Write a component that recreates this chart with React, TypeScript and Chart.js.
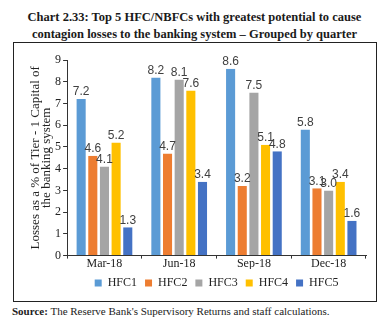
import React, { useEffect, useRef } from "react";
import { Chart, registerables } from "chart.js";

Chart.register(...registerables);

const categories = ["Mar-18", "Jun-18", "Sep-18", "Dec-18"];
const seriesNames = ["HFC1", "HFC2", "HFC3", "HFC4", "HFC5"];
const hfc1 = [7.2, 8.2, 8.6, 5.8];
const hfc2 = [4.6, 4.7, 3.2, 3.1];
const hfc3 = [4.1, 8.1, 7.5, 3.0];
const hfc4 = [5.2, 7.6, 5.1, 3.4];
const hfc5 = [1.3, 3.4, 4.8, 1.6];
const colors = ["#5B9BD5", "#ED7D31", "#A5A5A5", "#FFC000", "#4472C4"];

const valueLabels = {
  id: "valueLabels",
  afterDatasetsDraw(chart: any) {
    const ctx = chart.ctx;
    ctx.save();
    ctx.font = "12px 'Liberation Sans', Arial, sans-serif";
    ctx.fillStyle = "#404040";
    ctx.textAlign = "center";
    ctx.textBaseline = "bottom";
    chart.data.datasets.forEach((ds: any, i: number) => {
      const meta = chart.getDatasetMeta(i);
      meta.data.forEach((bar: any, j: number) => {
        ctx.fillText(Number(ds.data[j]).toFixed(1), bar.x, bar.y - 1);
      });
    });
    ctx.restore();
  },
};

export default function App() {
  const ref = useRef<HTMLCanvasElement>(null);
  useEffect(() => {
    document.body.style.margin = "0";
    const data = [hfc1, hfc2, hfc3, hfc4, hfc5];
    const chart = new Chart(ref.current!, {
      type: "bar",
      data: {
        labels: categories,
        datasets: seriesNames.map((n, i) => ({
          label: n,
          data: data[i],
          backgroundColor: colors[i],
          borderColor: "#ffffff",
          borderWidth: { left: 1, right: 1, top: 0, bottom: 0 },
          categoryPercentage: 0.78,
          barPercentage: 0.95,
        })),
      },
      options: {
        animation: false,
        responsive: false,
        maintainAspectRatio: false,
        layout: { padding: { left: 16, right: 10, top: 17, bottom: 2 } },
        plugins: {
          tooltip: { enabled: false },
          legend: {
            position: "bottom",
            fullSize: false,
            labels: {
              boxWidth: 7,
              boxHeight: 7,
              padding: 8,
              color: "#222",
              font: { family: "'Liberation Serif', serif", size: 12 },
              generateLabels: (chart: any) =>
                Chart.defaults.plugins.legend.labels.generateLabels(chart).map((l: any) => ({ ...l, lineWidth: 0 })),
            },
          },
        },
        scales: {
          x: {
            grid: { display: true, drawOnChartArea: false, drawTicks: true, tickLength: 3, color: "#333" },
            border: { display: true, color: "#333" },
            ticks: { color: "#222", font: { family: "'Liberation Serif', serif", size: 12 }, padding: -2 },
          },
          y: {
            min: 0,
            max: 9,
            grid: { display: true, drawOnChartArea: false, drawTicks: true, tickLength: 4, color: "#333" },
            border: { display: true, color: "#333" },
            ticks: { stepSize: 1, color: "#222", font: { family: "'Liberation Serif', serif", size: 12 }, padding: 2 },
            title: {
              display: true,
              text: ["Losses as a % of Tier - 1 Capital of", "the banking system"],
              color: "#222",
              font: { family: "'Liberation Serif', serif", size: 13, lineHeight: 0.85 },
              padding: { top: 0, bottom: 1 },
            },
          },
        },
      },
      plugins: [valueLabels],
    });
    return () => chart.destroy();
  }, []);

  return (
    <div style={{ position: "relative", width: 389, height: 327, background: "#fff", fontFamily: "'Liberation Serif', serif" }}>
      <div
        style={{
          position: "absolute",
          top: 9,
          left: 0,
          width: 389,
          textAlign: "center",
          fontWeight: "bold",
          fontSize: 12.5,
          lineHeight: "17px",
          color: "#1a1a1a",
        }}
      >
        Chart 2.33: Top 5 HFC/NBFCs with greatest potential to cause
        <br />
        contagion losses to the banking system – Grouped by quarter
      </div>
      <div
        style={{
          position: "absolute",
          left: 13,
          top: 42,
          width: 362,
          height: 258,
          border: "1px solid #222",
          boxSizing: "content-box",
        }}
      >
        <canvas ref={ref} width={362} height={258} style={{ display: "block" }} />
      </div>
      <div
        style={{
          position: "absolute",
          left: 12,
          top: 305,
          fontSize: 11,
          color: "#222",
        }}
      >
        <b>Source:</b> The Reserve Bank's Supervisory Returns and staff calculations.
      </div>
    </div>
  );
}
